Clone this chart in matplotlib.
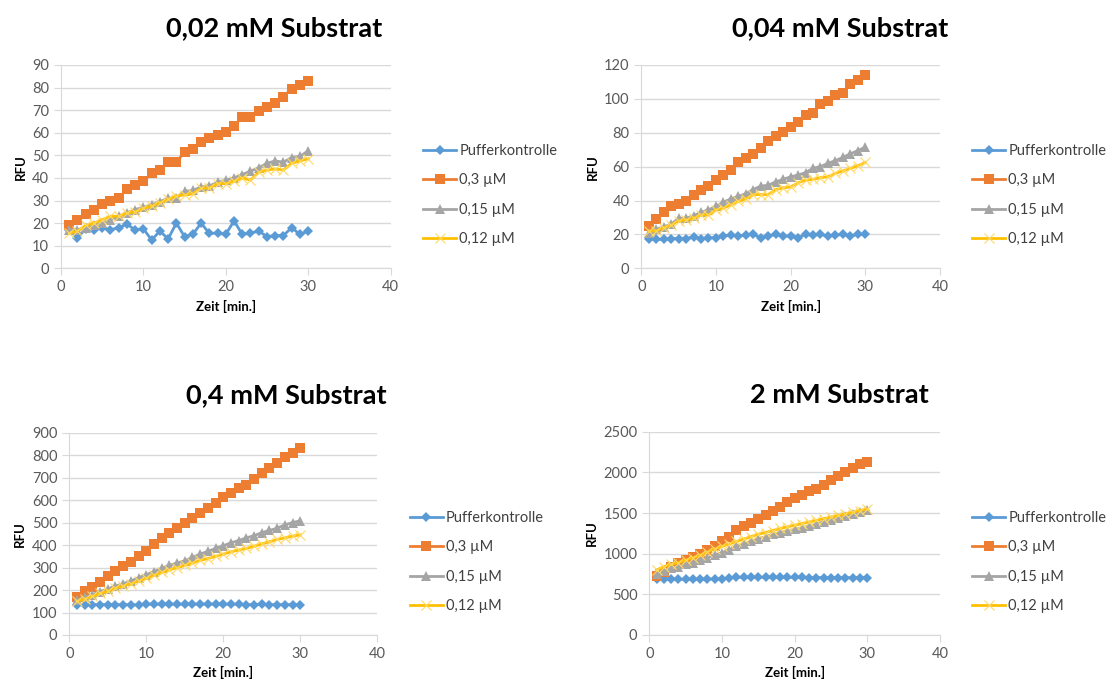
import numpy as np
import matplotlib
matplotlib.use("agg")
import matplotlib.pyplot as plt

plt.rcParams['font.family'] = ['Lato', 'DejaVu Sans']

zeit = list(range(1, 31))
labels = ["Pufferkontrolle", "0,3 µM", "0,15 µM", "0,12 µM"]
titles = ["0,02 mM Substrat", "0,04 mM Substrat", "0,4 mM Substrat", "2 mM Substrat"]
ymax = [90, 120, 900, 2500]
ystep = [10, 20, 100, 500]

# 0,02 mM
puffer_002 = [17, 13.5, 17.5, 17, 18, 17, 18, 19.5, 17, 17.5, 12.5, 16.5, 13, 20, 14,
              15, 20, 15.5, 15.5, 15, 21, 15, 15.5, 16.5, 14, 14.5, 14.5, 18, 15, 16.5]
c03_002 = [19, 21.5, 24, 26, 28.5, 30, 31, 35, 37, 38.5, 42, 43.5, 47, 47, 51.5,
           53, 56, 57.5, 59, 60.5, 63, 67, 67, 69.5, 71.5, 73, 76, 79.5, 81, 83]
c015_002 = [17, 17, 18, 19, 20, 21.5, 23, 24.5, 26, 27, 28, 29.5, 31, 31, 34,
            34.5, 36, 36.5, 38, 39, 40, 41.5, 43, 44.5, 46.5, 47.5, 47, 49, 49.5, 52]
c012_002 = [15.5, 16.5, 19, 20, 21.5, 23, 23, 24.5, 25, 26.5, 27.5, 29, 30.5, 32, 32.5,
            33, 35.5, 35.5, 37.5, 37.5, 38.5, 40, 39, 42.5, 43.5, 44, 43.5, 46.5, 47.5, 48.5]

# 0,04 mM
puffer_004 = [17.5, 17, 17, 17.5, 17.5, 17.5, 18.5, 17.5, 18, 18, 19, 19.5, 19, 19.5, 20,
              18, 19, 20, 19, 19, 18, 20, 19.5, 20, 19, 19.5, 20, 19, 20, 20]
c03_004 = [25, 29, 33, 37, 38, 39.5, 43, 46, 48.5, 52, 55, 58, 62.5, 65, 67.5,
           71, 75, 78, 80.5, 83.5, 86.5, 90.5, 91.5, 97, 99, 102.5, 103.5, 108.5, 111, 114]
c015_004 = [21, 23, 24.5, 26, 29.5, 29.5, 31, 33, 34.5, 36.5, 39, 41, 42.5, 44, 46.5,
            48.5, 49, 51, 52.5, 54, 55, 56.5, 59, 60, 62, 63.5, 65.5, 67.5, 69.5, 71.5]
c012_004 = [22, 22, 24, 25.5, 28, 28.5, 29.5, 31.5, 31.5, 34.5, 35.5, 37.5, 39.5, 41, 43.5,
            43.5, 43.5, 46.5, 47.5, 48, 50.5, 52, 52.5, 53.5, 54, 56, 57.5, 59, 60.5, 62.5]

# 0,4 mM
puffer_04 = [135, 135, 135, 135, 135, 135, 135, 135, 133, 137, 137, 137, 137, 137, 137,
             137, 137, 137, 137, 137, 137, 137, 135, 135, 137, 135, 135, 135, 135, 135]
c03_04 = [170, 195, 215, 235, 262, 285, 305, 325, 350, 375, 403, 430, 455, 475, 500,
          522, 543, 563, 585, 612, 630, 655, 668, 695, 722, 743, 765, 790, 810, 830]
c015_04 = [155, 168, 180, 193, 205, 218, 228, 240, 255, 268, 282, 297, 310, 320, 330,
           345, 360, 372, 385, 397, 410, 420, 432, 442, 455, 465, 475, 490, 500, 508]
c012_04 = [150, 160, 172, 185, 195, 208, 218, 228, 240, 252, 265, 278, 290, 300, 310,
           320, 332, 340, 350, 360, 370, 378, 385, 395, 405, 415, 425, 432, 440, 445]

# 2 mM
puffer_2 = [690, 685, 685, 685, 685, 685, 685, 685, 690, 690, 700, 710, 710, 710, 710,
            710, 710, 710, 710, 710, 710, 705, 705, 705, 705, 705, 705, 705, 705, 705]
c03_2 = [730, 770, 840, 880, 920, 960, 1000, 1050, 1100, 1150, 1210, 1290, 1340, 1380, 1430,
         1480, 1530, 1580, 1630, 1680, 1720, 1770, 1800, 1840, 1900, 1950, 2000, 2050, 2100, 2130]
c015_2 = [750, 790, 820, 840, 870, 890, 920, 950, 985, 1010, 1050, 1090, 1120, 1150, 1180,
          1210, 1240, 1260, 1280, 1300, 1320, 1340, 1370, 1390, 1420, 1440, 1460, 1490, 1510, 1540]
c012_2 = [800, 840, 870, 890, 920, 950, 980, 1020, 1060, 1090, 1120, 1150, 1180, 1210, 1240,
          1260, 1285, 1310, 1330, 1350, 1370, 1390, 1410, 1430, 1450, 1470, 1490, 1510, 1530, 1550]

data = [
    [puffer_002, c03_002, c015_002, c012_002],
    [puffer_004, c03_004, c015_004, c012_004],
    [puffer_04, c03_04, c015_04, c012_04],
    [puffer_2, c03_2, c015_2, c012_2],
]

colors = ["#5B9BD5", "#ED7D31", "#A5A5A5", "#FFC000"]
markers = ["D", "s", "^", "x"]
msizes = [5.5, 7, 7, 7]

# axes rectangles in figure fractions
rects = [
    [0.0551, 0.6095, 0.2977, 0.2959],
    [0.5793, 0.6095, 0.2698, 0.2959],
    [0.0626, 0.0757, 0.2782, 0.2945],
    [0.5865, 0.0757, 0.2626, 0.2959],
]
title_pos = [(0.248, 0.959), (0.759, 0.959), (0.259, 0.425), (0.758, 0.425)]
legend_pos = [(0.382, 0.716), (0.878, 0.716), (0.370, 0.182), (0.878, 0.182)]

fig = plt.figure(figsize=(11.07, 6.87), dpi=100)

for i in range(4):
    ax = fig.add_axes(rects[i])
    for j in range(4):
        if markers[j] == "x":
            ax.plot(zeit, data[i][j], color=colors[j], lw=2, marker="x", ms=msizes[j],
                    mew=0.8, mec="#FFD966", label=labels[j])
        else:
            ax.plot(zeit, data[i][j], color=colors[j], lw=2, marker=markers[j],
                    ms=msizes[j], mew=0, label=labels[j])
    ax.set_xlim(0, 40)
    ax.set_ylim(0, ymax[i])
    ax.set_xticks(range(0, 41, 10))
    ax.set_yticks(np.arange(0, ymax[i] + 1, ystep[i]))
    ax.yaxis.grid(True, color="#D9D9D9", lw=1)
    ax.set_axisbelow(True)
    for s in ["top", "right"]:
        ax.spines[s].set_visible(False)
    for s in ["left", "bottom"]:
        ax.spines[s].set_color("#D9D9D9")
    ax.tick_params(axis="both", colors="#D9D9D9", labelcolor="#595959", labelsize=10.5,
                   length=5, direction="out")
    ax.set_xlabel("Zeit [min.]", fontsize=9.5, fontweight="bold", color="black")
    ax.set_ylabel("RFU", fontsize=9.5, fontweight="bold", color="black")
    fig.text(title_pos[i][0], title_pos[i][1], titles[i], ha="center", va="center",
             fontsize=19.5, fontweight="bold")
    ax.legend(loc="center left", bbox_to_anchor=legend_pos[i], bbox_transform=fig.transFigure,
              frameon=False, fontsize=10.5, handlelength=2.3, labelspacing=1.05,
              borderpad=0, borderaxespad=0, handletextpad=0.2, labelcolor="#404040")

plt.savefig("out.png", dpi=100)
